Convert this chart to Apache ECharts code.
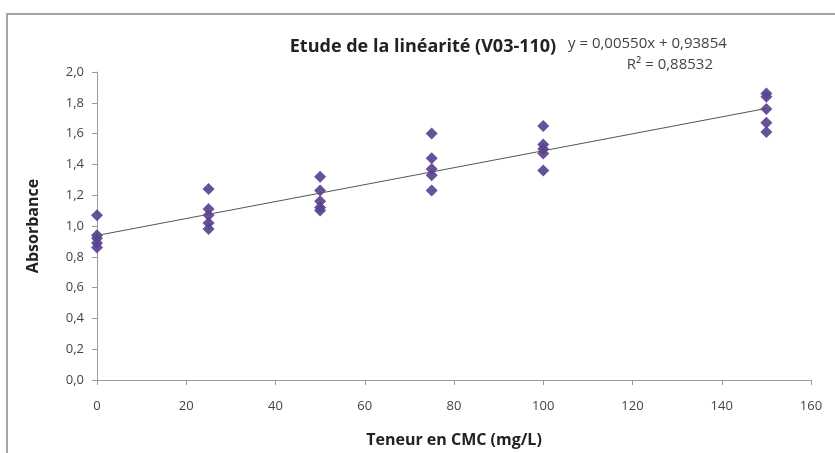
<!DOCTYPE html>
<html><head><meta charset="utf-8">
<script src="https://cdn.jsdelivr.net/npm/echarts@6/dist/echarts.min.js"></script>
<style>html,body{margin:0;padding:0;background:#fff;}#c{width:835px;height:453px;}
#frame{position:absolute;left:6px;top:13px;width:840px;height:450px;border:2px solid #a6a6a6;box-shadow:1px 1px 2px #ccc;pointer-events:none;}</style>
</head><body><div id="c"></div><div id="frame"></div>
<script>
const xValues = [0,0,0,0,0, 25,25,25,25,25, 50,50,50,50,50, 75,75,75,75,75, 100,100,100,100,100, 150,150,150,150,150];
const yValues = [1.07,0.94,0.92,0.89,0.86, 1.24,1.11,1.07,1.02,0.98, 1.32,1.23,1.16,1.12,1.10, 1.60,1.44,1.37,1.33,1.23, 1.65,1.53,1.50,1.47,1.36, 1.86,1.84,1.76,1.67,1.61];
const slope = 0.00550, intercept = 0.93854;
const trendX = [0, 150];
const titleText = 'Etude de la linéarité (V03-110)';
const eqText = 'y = 0,00550x + 0,93854';
const r2Text = 'R² = 0,88532';
const font = '"Open Sans", Lato, sans-serif';

const points = xValues.map((x,i)=>[x,yValues[i]]);
const trend = trendX.map(x=>[x, slope*x+intercept]);
const chart = echarts.init(document.getElementById('c'));
chart.setOption({
  animation:false,
  backgroundColor:'#fff',
  title:{text:titleText,left:418,top:33,textAlign:'center',textStyle:{fontFamily:font,fontSize:18,fontWeight:'bold',color:'#222'}},
  graphic:[
    {type:'text',left:568,top:36,style:{text:eqText,font:'15px '+font,fill:'#444'}},
    {type:'text',right:122,top:57,style:{text:r2Text,font:'15px '+font,fill:'#444'}}
  ],
  grid:{left:97,right:24,top:72,bottom:70},
  xAxis:{type:'value',min:0,max:160,interval:20,
    name:'Teneur en CMC (mg/L)',nameLocation:'middle',nameGap:52,
    nameTextStyle:{fontFamily:font,fontSize:16,fontWeight:'bold',color:'#222'},
    axisLine:{show:true,lineStyle:{color:'#9a9a9a'}},
    axisTick:{show:true,inside:false,length:5,lineStyle:{color:'#9a9a9a'}},
    axisLabel:{fontFamily:font,fontSize:13,color:'#444',margin:20},
    splitLine:{show:false}},
  yAxis:{type:'value',min:0,max:2,interval:0.2,
    name:'Absorbance',nameLocation:'middle',nameGap:56,
    nameTextStyle:{fontFamily:font,fontSize:16,fontWeight:'bold',color:'#222'},
    axisLine:{show:true,lineStyle:{color:'#9a9a9a'}},
    axisTick:{show:true,length:5,lineStyle:{color:'#9a9a9a'}},
    axisLabel:{fontFamily:font,fontSize:13,color:'#444',margin:13,formatter:v=>v.toFixed(1).replace('.',',')},
    splitLine:{show:false}},
  series:[
    {type:'line',data:trend,showSymbol:false,symbol:'none',lineStyle:{color:'#555',width:1},z:3},
    {type:'scatter',data:points,symbol:'diamond',symbolSize:12,itemStyle:{color:'#5a4293',opacity:0.92},z:2}
  ]
});
</script></body></html>
